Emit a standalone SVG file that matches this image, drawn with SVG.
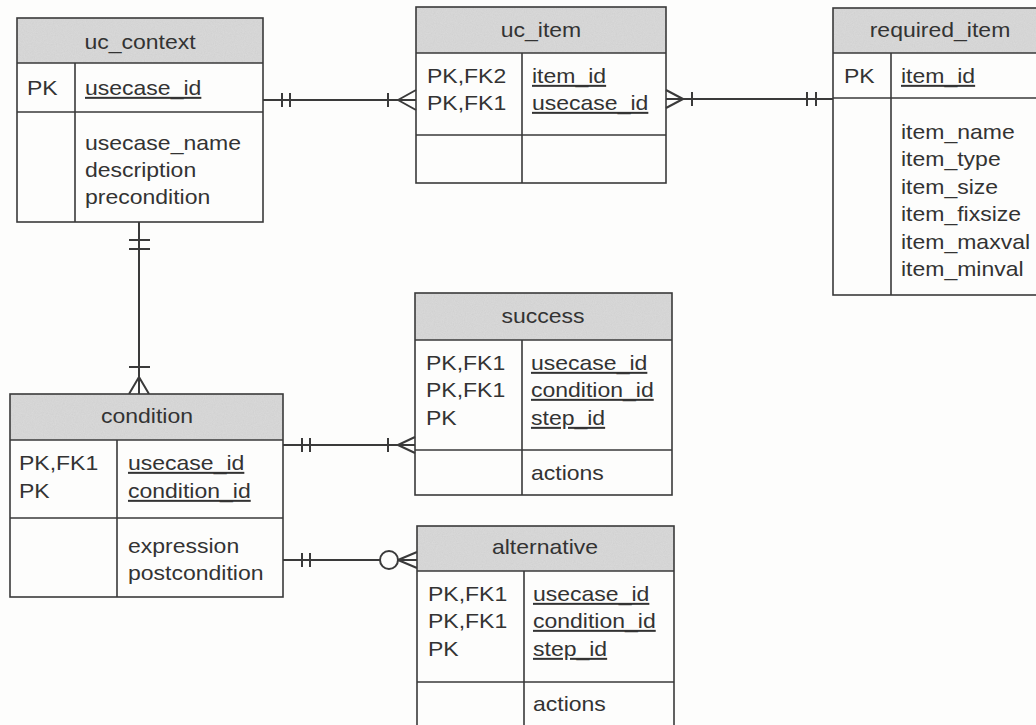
<svg xmlns="http://www.w3.org/2000/svg" width="1036" height="725" viewBox="0 0 1036 725">
  <style>
    .box { fill: none; stroke: #3a3a3a; stroke-width: 1.6; }
    .head { fill: #d9d9d9; stroke: none; }
    .sep { stroke: #3a3a3a; stroke-width: 1.6; fill: none; }
    .rel { stroke: #3a3a3a; stroke-width: 2; fill: none; }
    text { font-family: "Liberation Sans", Arial, sans-serif; font-size: 20px; fill: #333; }
    .t { transform-box: fill-box; transform-origin: 0% 50%; transform: scaleX(1.15); }
    .c { text-anchor: middle; transform-box: fill-box; transform-origin: 50% 50%; transform: scaleX(1.15); }
    .k { text-decoration: underline; }
  </style>
  <defs>
    <filter id="grain" x="0" y="0" width="1" height="1">
      <feTurbulence type="fractalNoise" baseFrequency="0.9" numOctaves="2" seed="4" result="n"/>
      <feColorMatrix in="n" type="matrix" values="0 0 0 0 0.55  0 0 0 0 0.55  0 0 0 0 0.55  0 0 0 0.55 -0.1" result="g"/>
      <feComposite in="g" in2="SourceGraphic" operator="in" result="gg"/>
      <feMerge><feMergeNode in="SourceGraphic"/><feMergeNode in="gg"/></feMerge>
    </filter>
  </defs>

  <rect width="1036" height="725" fill="#fdfdfc"/>

  <!-- relationships -->
  <g id="connectors">
    <!-- uc_context 1 : N uc_item -->
    <path class="rel" d="M263,100 H416 M282,93 V107 M290,93 V107 M388,93 V107 M398,100 L416,90 M398,100 L416,110"/>
    <!-- required_item 1 : N uc_item -->
    <path class="rel" d="M666,99 H833 M683,99 L666,90 M683,99 L666,108 M692,92 V106 M807,92 V106 M816,92 V106"/>
    <!-- uc_context 1 : N condition -->
    <path class="rel" d="M139,222 V394 M129,240 H150 M129,249 H150 M129,367 H150 M139,377 L129,394 M139,377 L149,394"/>
    <!-- condition 1 : N success -->
    <path class="rel" d="M283,445 H415 M302,438 V452 M310,438 V452 M388,438 V452 M398,445 L415,437 M398,445 L415,453"/>
    <!-- condition 1 : 0..N alternative -->
    <path class="rel" d="M283,560 H380 M302,553 V567 M310,553 V567 M398,560 H417 M398,560 L417,552 M398,560 L417,568"/>
    <circle class="rel" cx="389" cy="560" r="9"/>
  </g>

  <g id="uc_context">
    <rect class="head" x="17" y="18" width="246" height="45" filter="url(#grain)"/>
    <rect class="box" x="17" y="18" width="246" height="204"/>
    <path class="sep" d="M17,63 H263 M17,112 H263 M75,63 V222"/>
    <text class="c" x="140" y="49">uc_context</text>
    <text class="t" x="27" y="95">PK</text>
    <text class="t k" x="85" y="95">usecase_id</text>
    <text class="t" x="85" y="150">usecase_name</text>
    <text class="t" x="85" y="177">description</text>
    <text class="t" x="85" y="204">precondition</text>
  </g>

  <g id="uc_item">
    <rect class="head" x="416" y="7" width="250" height="46" filter="url(#grain)"/>
    <rect class="box" x="416" y="7" width="250" height="176"/>
    <path class="sep" d="M416,53 H666 M416,135 H666 M522,53 V183"/>
    <text class="c" x="541" y="37">uc_item</text>
    <text class="t" x="427" y="83">PK,FK2</text>
    <text class="t" x="427" y="110">PK,FK1</text>
    <text class="t k" x="532" y="83">item_id</text>
    <text class="t k" x="532" y="110">usecase_id</text>
  </g>

  <g id="required_item">
    <rect class="head" x="833" y="8" width="220" height="45" filter="url(#grain)"/>
    <rect class="box" x="833" y="8" width="220" height="287"/>
    <path class="sep" d="M833,53 H1053 M833,98 H1053 M891,53 V295"/>
    <text class="c" x="940" y="37">required_item</text>
    <text class="t" x="844" y="83">PK</text>
    <text class="t k" x="901" y="83">item_id</text>
    <text class="t" x="901" y="139">item_name</text>
    <text class="t" x="901" y="166.5">item_type</text>
    <text class="t" x="901" y="194">item_size</text>
    <text class="t" x="901" y="221.5">item_fixsize</text>
    <text class="t" x="901" y="249">item_maxval</text>
    <text class="t" x="901" y="276.5">item_minval</text>
  </g>

  <g id="condition">
    <rect class="head" x="10" y="394" width="273" height="46" filter="url(#grain)"/>
    <rect class="box" x="10" y="394" width="273" height="203"/>
    <path class="sep" d="M10,440 H283 M10,518 H283 M117,440 V597"/>
    <text class="c" x="147" y="423">condition</text>
    <text class="t" x="19" y="470">PK,FK1</text>
    <text class="t" x="19" y="498">PK</text>
    <text class="t k" x="128" y="470">usecase_id</text>
    <text class="t k" x="128" y="498">condition_id</text>
    <text class="t" x="128" y="553">expression</text>
    <text class="t" x="128" y="580">postcondition</text>
  </g>

  <g id="success">
    <rect class="head" x="415" y="293" width="257" height="47" filter="url(#grain)"/>
    <rect class="box" x="415" y="293" width="257" height="202"/>
    <path class="sep" d="M415,340 H672 M415,450 H672 M522,340 V495"/>
    <text class="c" x="543" y="323">success</text>
    <text class="t" x="426" y="370">PK,FK1</text>
    <text class="t" x="426" y="397">PK,FK1</text>
    <text class="t" x="426" y="425">PK</text>
    <text class="t k" x="531" y="370">usecase_id</text>
    <text class="t k" x="531" y="397">condition_id</text>
    <text class="t k" x="531" y="425">step_id</text>
    <text class="t" x="531" y="480">actions</text>
  </g>

  <g id="alternative">
    <rect class="head" x="417" y="526" width="257" height="45" filter="url(#grain)"/>
    <rect class="box" x="417" y="526" width="257" height="210"/>
    <path class="sep" d="M417,571 H674 M417,682 H674 M524,571 V736"/>
    <text class="c" x="545" y="554">alternative</text>
    <text class="t" x="428" y="601">PK,FK1</text>
    <text class="t" x="428" y="628">PK,FK1</text>
    <text class="t" x="428" y="656">PK</text>
    <text class="t k" x="533" y="601">usecase_id</text>
    <text class="t k" x="533" y="628">condition_id</text>
    <text class="t k" x="533" y="656">step_id</text>
    <text class="t" x="533" y="711">actions</text>
  </g>
</svg>
